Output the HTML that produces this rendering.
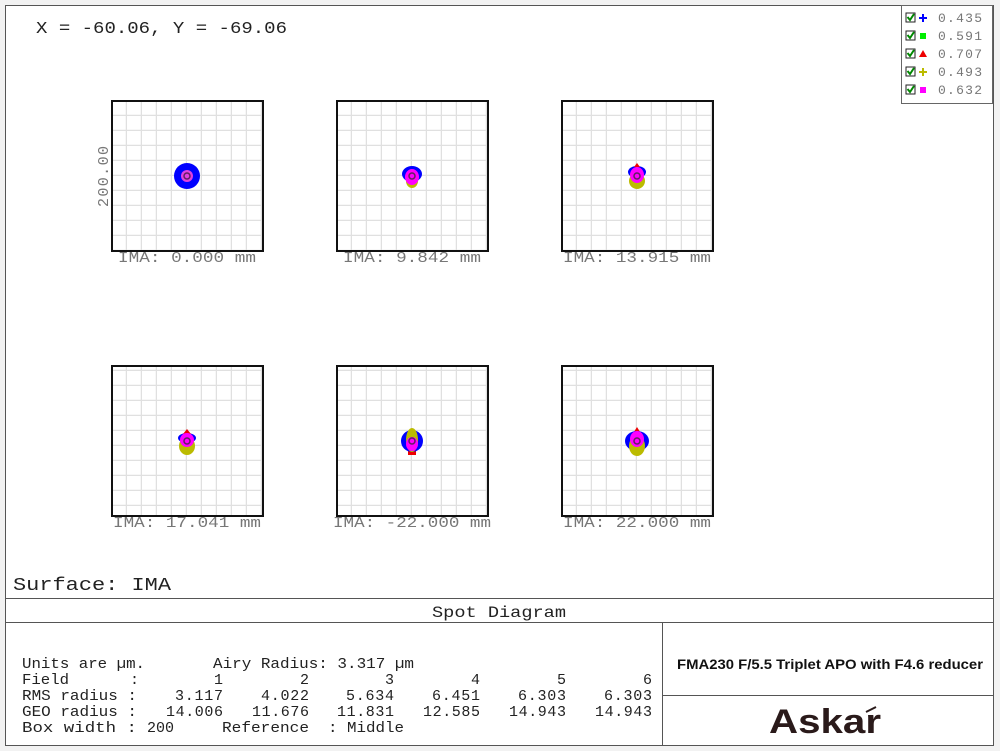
<!DOCTYPE html>
<html><head><meta charset="utf-8"><style>
body{margin:0;background:#fff;width:1000px;height:751px;overflow:hidden}
svg text{font-family:"Liberation Mono",monospace;fill:#222}
</style></head><body>
<svg width="1000" height="751" viewBox="0 0 1000 751" xmlns="http://www.w3.org/2000/svg">
<defs>
<pattern id="g" x="112" y="101" width="15" height="15" patternUnits="userSpaceOnUse">
<path d="M15 0V15M0 15H15" stroke="#e0e0e0" stroke-width="2.5" fill="none"/>
</pattern>
</defs>
<rect x="0" y="0" width="1000" height="751" fill="#f2f2f2"/>
<rect x="5.5" y="5.5" width="988" height="740" fill="#fff" stroke="#555" stroke-width="1"/>
<text x="36" y="33" font-size="17" textLength="251" lengthAdjust="spacingAndGlyphs">X = -60.06, Y = -69.06</text>
<!-- legend -->
<rect x="901.5" y="5.5" width="91" height="98" fill="#fff" stroke="#666"/>
<g font-size="13">
<g transform="translate(0,0)">
<rect x="906" y="13" width="9" height="9" fill="#fff" stroke="#222"/><path d="M907.5 17l2.5 3 4-6" stroke="#080" stroke-width="2" fill="none"/>
<path d="M923 14v8M919 18h8" stroke="#00f" stroke-width="2"/><text x="938" y="22" style="fill:#777" textLength="44">0.435</text></g>
<g transform="translate(0,18)">
<rect x="906" y="13" width="9" height="9" fill="#fff" stroke="#222"/><path d="M907.5 17l2.5 3 4-6" stroke="#080" stroke-width="2" fill="none"/>
<rect x="920" y="15" width="6" height="6" fill="#0e0"/><text x="938" y="22" style="fill:#777" textLength="44">0.591</text></g>
<g transform="translate(0,36)">
<rect x="906" y="13" width="9" height="9" fill="#fff" stroke="#222"/><path d="M907.5 17l2.5 3 4-6" stroke="#080" stroke-width="2" fill="none"/>
<path d="M923 14l4 7h-8z" fill="#e00"/><text x="938" y="22" style="fill:#777" textLength="44">0.707</text></g>
<g transform="translate(0,54)">
<rect x="906" y="13" width="9" height="9" fill="#fff" stroke="#222"/><path d="M907.5 17l2.5 3 4-6" stroke="#080" stroke-width="2" fill="none"/>
<path d="M923 14v8M919 18h8" stroke="#bb0" stroke-width="2"/><text x="938" y="22" style="fill:#777" textLength="44">0.493</text></g>
<g transform="translate(0,72)">
<rect x="906" y="13" width="9" height="9" fill="#fff" stroke="#222"/><path d="M907.5 17l2.5 3 4-6" stroke="#080" stroke-width="2" fill="none"/>
<rect x="920" y="15" width="6" height="6" fill="#f0f"/><text x="938" y="22" style="fill:#777" textLength="44">0.632</text></g>
</g>
<!-- boxes -->
<g>
<rect x="112" y="101" width="151" height="150" fill="url(#g)" stroke="#111" stroke-width="2"/>
<rect x="337" y="101" width="151" height="150" fill="url(#g)" stroke="#111" stroke-width="2"/>
<rect x="562" y="101" width="151" height="150" fill="url(#g)" stroke="#111" stroke-width="2"/>
<rect x="112" y="366" width="151" height="150" fill="url(#g)" stroke="#111" stroke-width="2"/>
<rect x="337" y="366" width="151" height="150" fill="url(#g)" stroke="#111" stroke-width="2"/>
<rect x="562" y="366" width="151" height="150" fill="url(#g)" stroke="#111" stroke-width="2"/>
</g>
<text transform="translate(108,207) rotate(-90)" font-size="15" style="fill:#777" textLength="61">200.00</text>
<g font-size="15">
<text x="118" y="262" style="fill:#777" textLength="138" lengthAdjust="spacingAndGlyphs">IMA: 0.000 mm</text>
<text x="343" y="262" style="fill:#777" textLength="138" lengthAdjust="spacingAndGlyphs">IMA: 9.842 mm</text>
<text x="563" y="262" style="fill:#777" textLength="148" lengthAdjust="spacingAndGlyphs">IMA: 13.915 mm</text>
<text x="113" y="527" style="fill:#777" textLength="148" lengthAdjust="spacingAndGlyphs">IMA: 17.041 mm</text>
<text x="333" y="527" style="fill:#777" textLength="158" lengthAdjust="spacingAndGlyphs">IMA: -22.000 mm</text>
<text x="563" y="527" style="fill:#777" textLength="148" lengthAdjust="spacingAndGlyphs">IMA: 22.000 mm</text>
</g>
<!-- spots -->
<g>
<circle cx="187" cy="176" r="13" fill="#00f"/><circle cx="187" cy="176" r="6" fill="#e040e0"/><circle cx="187" cy="176" r="3" fill="none" stroke="#602060" stroke-width="1.5"/>
</g>
<g>
<ellipse cx="412" cy="181" rx="6" ry="7" fill="#bb0"/><ellipse cx="412" cy="174" rx="10" ry="8" fill="#00f"/><ellipse cx="412" cy="177" rx="7" ry="8" fill="#f0f"/><circle cx="412" cy="176" r="3" fill="none" stroke="#602060" stroke-width="1.5"/>
</g>
<g>
<ellipse cx="637" cy="181" rx="8" ry="8" fill="#bb0"/><ellipse cx="637" cy="172" rx="9" ry="6" fill="#00f"/><path d="M637 163l3 4h-6z" fill="#e00"/><ellipse cx="637" cy="175" rx="7" ry="8" fill="#f0f"/><circle cx="637" cy="176" r="3" fill="none" stroke="#602060" stroke-width="1.5"/>
</g>
<g>
<ellipse cx="187" cy="446" rx="8" ry="9" fill="#bb0"/><ellipse cx="187" cy="438" rx="9" ry="5" fill="#00f"/><path d="M187 429l4 5h-8z" fill="#e00"/><ellipse cx="187" cy="440" rx="7" ry="7" fill="#f0f"/><circle cx="187" cy="441" r="3" fill="none" stroke="#602060" stroke-width="1.5"/>
</g>
<g>
<rect x="408" y="446" width="8" height="9" fill="#e00"/><ellipse cx="412" cy="441" rx="11" ry="11" fill="#00f"/><ellipse cx="412" cy="440" rx="6" ry="12" fill="#bb0"/><ellipse cx="412" cy="444" rx="6" ry="7" fill="#f0f"/><circle cx="412" cy="441" r="3" fill="none" stroke="#602060" stroke-width="1.5"/>
</g>
<g>
<path d="M637 427l5 8h-10z" fill="#e00"/><ellipse cx="637" cy="441" rx="12" ry="10" fill="#00f"/><ellipse cx="637" cy="446" rx="8" ry="10" fill="#bb0"/><ellipse cx="637" cy="439" rx="7" ry="8" fill="#f0f"/><circle cx="637" cy="441" r="3" fill="none" stroke="#602060" stroke-width="1.5"/>
</g>
<text x="13" y="590" font-size="18" textLength="158" lengthAdjust="spacingAndGlyphs">Surface: IMA</text>
<!-- bottom table -->
<path d="M6 598.5H993M6 622.5H993M662.5 622V745M662 695.5H993" stroke="#555" stroke-width="1"/>
<text x="432" y="617" font-size="16" textLength="134" lengthAdjust="spacingAndGlyphs">Spot Diagram</text>
<g font-size="15">
<text x="22" y="668" textLength="123" lengthAdjust="spacingAndGlyphs">Units are µm.</text>
<text x="213" y="668" textLength="201" lengthAdjust="spacingAndGlyphs">Airy Radius: 3.317 µm</text>
<text x="22" y="684" textLength="47" lengthAdjust="spacingAndGlyphs">Field</text>
<text x="22" y="700" textLength="115" lengthAdjust="spacingAndGlyphs">RMS radius :</text>
<text x="22" y="716" textLength="115" lengthAdjust="spacingAndGlyphs">GEO radius :</text>
<text x="22" y="732" textLength="115" lengthAdjust="spacingAndGlyphs">Box width  :</text>
<text x="130" y="684">:</text>
<text x="147" y="732">200</text>
<text x="222" y="732" textLength="87" lengthAdjust="spacingAndGlyphs">Reference</text>
<text x="328" y="732" textLength="76" lengthAdjust="spacingAndGlyphs">: Middle</text>
<g text-anchor="end">
<text x="223" y="684">1</text><text x="309" y="684">2</text><text x="394" y="684">3</text><text x="480" y="684">4</text><text x="566" y="684">5</text><text x="652" y="684">6</text>
<text x="223" y="700" textLength="48">3.117</text><text x="309" y="700" textLength="48">4.022</text><text x="394" y="700" textLength="48">5.634</text><text x="480" y="700" textLength="48">6.451</text><text x="566" y="700" textLength="48">6.303</text><text x="652" y="700" textLength="48">6.303</text>
<text x="223" y="716" textLength="57">14.006</text><text x="309" y="716" textLength="57">11.676</text><text x="394" y="716" textLength="57">11.831</text><text x="480" y="716" textLength="57">12.585</text><text x="566" y="716" textLength="57">14.943</text><text x="652" y="716" textLength="57">14.943</text>
</g>
</g>
<text x="677" y="669" font-size="14" font-weight="bold" style="font-family:'Liberation Sans',sans-serif;fill:#111" textLength="306" lengthAdjust="spacingAndGlyphs">FMA230 F/5.5 Triplet APO with F4.6 reducer</text>
<text x="769" y="733" font-size="34" font-weight="bold" style="font-family:'Liberation Sans',sans-serif;fill:#2a1a1a" textLength="112" lengthAdjust="spacingAndGlyphs">Askar</text>
<path d="M866 712l10-5" stroke="#2a1a1a" stroke-width="2"/>
</svg>
</body></html>
